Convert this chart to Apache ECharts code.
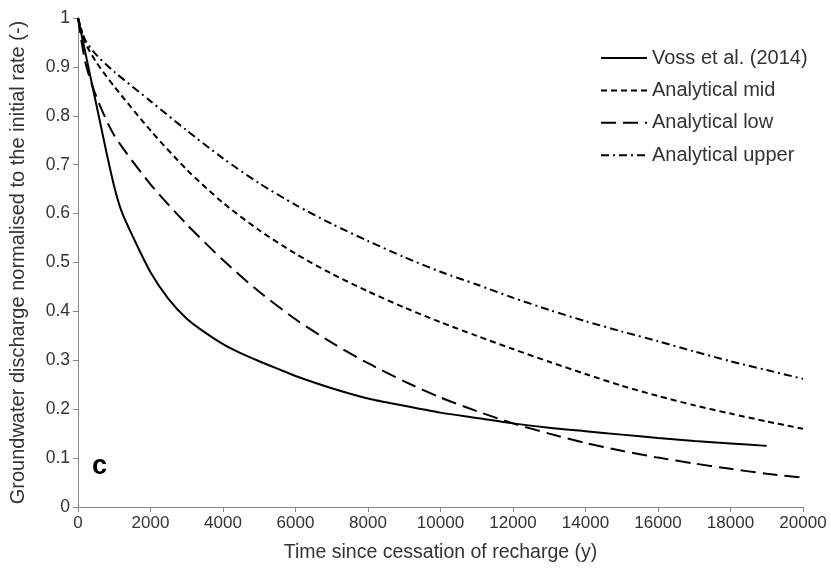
<!DOCTYPE html>
<html>
<head>
<meta charset="utf-8">
<script src="https://cdn.jsdelivr.net/npm/echarts@6/dist/echarts.min.js"></script>
<style>html,body{margin:0;padding:0;background:#fff;}#c{width:831px;height:569px;}</style>
</head>
<body>
<div id="c"></div>
<script>
// Analytical solutions, shared time grid (years)
const analyticalTime = [0,200,500,1000,2000,3000,4000,5000,6000,7000,8000,9000,10000,11000,12000,13000,14000,15000,16000,17000,18000,19000,20000];
const analyticalMid  = [1,0.95,0.91,0.86,0.77,0.69,0.622,0.566,0.518,0.477,0.441,0.408,0.378,0.35,0.323,0.297,0.272,0.248,0.227,0.208,0.191,0.175,0.16];
const analyticalLow  = [1,0.91,0.84,0.76,0.66,0.578,0.505,0.44,0.384,0.336,0.294,0.257,0.224,0.196,0.171,0.15,0.131,0.115,0.101,0.089,0.078,0.068,0.06];
const analyticalUpper= [1,0.955,0.925,0.89,0.83,0.77,0.713,0.662,0.618,0.579,0.544,0.511,0.481,0.455,0.428,0.403,0.38,0.359,0.339,0.318,0.298,0.28,0.262];
// Voss et al. (2014)
const vossTime = [0,200,400,600,800,1000,1200,1500,2000,2500,3000,3500,4000,4500,5000,5500,6000,7000,8000,9000,10000,11000,12000,13000,14000,15000,16000,17000,18000,19000];
const vossQ    = [1,0.93,0.86,0.79,0.72,0.655,0.605,0.555,0.48,0.425,0.385,0.357,0.333,0.314,0.298,0.283,0.268,0.243,0.222,0.207,0.193,0.182,0.171,0.162,0.155,0.148,0.141,0.135,0.13,0.125];
const seriesNames = ['Voss et al. (2014)','Analytical mid','Analytical low','Analytical upper'];

const pairs = (xs, ys) => xs.map((x, i) => [x, ys[i]]);
const FONT = 'Liberation Sans, Arial, sans-serif';
const TXT = '#333333';
const AX = '#868686';

const chart = echarts.init(document.getElementById('c'), null, {renderer: 'canvas'});
const lineBase = {type: 'line', showSymbol: false, symbol: 'none', symbolSize: 0, smooth: 0.25, z: 3};
chart.setOption({
  animation: false,
  backgroundColor: '#ffffff',
  grid: {left: 77, right: 28, top: 18, bottom: 62, containLabel: false},
  legend: {
    orient: 'vertical', left: 595, top: 43, itemWidth: 46, itemHeight: 20, itemGap: 12.4,
    itemStyle: {opacity: 0},
    textStyle: {fontFamily: FONT, fontSize: 20, color: TXT},
    data: seriesNames
  },
  xAxis: {
    type: 'value', min: 0, max: 20000, interval: 2000,
    name: 'Time since cessation of recharge (y)', nameLocation: 'middle', nameGap: 36,
    nameTextStyle: {fontFamily: FONT, fontSize: 19.5, color: TXT},
    axisLine: {show: true, lineStyle: {color: AX, width: 1}},
    axisTick: {show: true, length: 5, lineStyle: {color: AX}},
    axisLabel: {fontFamily: FONT, fontSize: 17, color: TXT, margin: 8, formatter: v => String(v)},
    splitLine: {show: false}
  },
  yAxis: {
    type: 'value', min: 0, max: 1, interval: 0.1,
    name: 'Groundwater discharge normalised to the initial rate (-)', nameLocation: 'middle', nameGap: 50,
    nameTextStyle: {fontFamily: FONT, fontSize: 20, color: TXT},
    axisLine: {show: true, lineStyle: {color: AX, width: 1}},
    axisTick: {show: true, length: 5, lineStyle: {color: AX}},
    axisLabel: {fontFamily: FONT, fontSize: 17.5, color: TXT, margin: 8},
    splitLine: {show: false}
  },
  graphic: [{type: 'text', left: 92, top: 453, style: {text: 'c', font: 'bold 27px ' + FONT, fill: '#000'}}],
  series: [
    Object.assign({}, lineBase, {name: seriesNames[0], data: pairs(vossTime, vossQ),
      lineStyle: {color: '#000', width: 2, type: 'solid'}, itemStyle: {color: '#000'}}),
    Object.assign({}, lineBase, {name: seriesNames[1], data: pairs(analyticalTime, analyticalMid),
      lineStyle: {color: '#000', width: 2, type: [6, 4]}, itemStyle: {color: '#000'}}),
    Object.assign({}, lineBase, {name: seriesNames[2], data: pairs(analyticalTime, analyticalLow),
      lineStyle: {color: '#000', width: 2, type: [15, 7]}, itemStyle: {color: '#000'}}),
    Object.assign({}, lineBase, {name: seriesNames[3], data: pairs(analyticalTime, analyticalUpper),
      lineStyle: {color: '#000', width: 2, type: [8, 4, 2, 4]}, itemStyle: {color: '#000'}})
  ]
});
</script>
</body>
</html>
